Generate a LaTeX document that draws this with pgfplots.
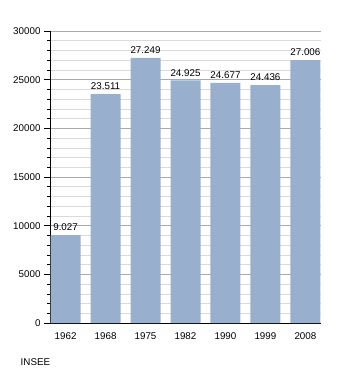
\documentclass[border=0pt]{standalone}
\usepackage{pgfplots}
\pgfplotsset{compat=1.18}
\usepackage{fontspec}
\setmainfont{Liberation Sans}
\definecolor{barblue}{RGB}{152,176,206}
\definecolor{majgrid}{RGB}{170,170,170}
\definecolor{mingrid}{RGB}{218,218,218}
\begin{document}
\begin{tikzpicture}
\path[use as bounding box] (0,0) rectangle (350pt,373pt);
\begin{axis}[
  at={(50pt,50pt)}, anchor=south west,
  scale only axis, width=271pt, height=292pt,
  ybar, bar width=30pt,
  xmin=-0.39, xmax=6.39, ymin=0, ymax=30000,
  xtick=data,
  xticklabels={1962,1968,1975,1982,1990,1999,2008},
  ytick={0,5000,10000,15000,20000,25000,30000},
  scaled y ticks=false,
  minor y tick num=4,
  ymajorgrids, yminorgrids,
  major grid style={majgrid, line width=0.6pt},
  minor grid style={mingrid, line width=0.6pt},
  axis lines=left,
  axis line style={-, black, line width=0.8pt},
  tick align=outside,
  major tick length=6pt, minor tick length=3pt,
  ytick style={black, line width=0.6pt},
  xtick style={draw=none},
  /pgf/number format/1000 sep={},
  /pgf/number format/assume math mode=true,
  tick label style={font=\fontsize{9.8}{10}\selectfont, text=black},
  nodes near coords,
  point meta=explicit symbolic,
  every node near coord/.append style={font=\fontsize{9.8}{10}\selectfont, text=black, inner sep=1pt, yshift=3pt},
]
\addplot[fill=barblue, draw=none] coordinates {
  (0,9027) [9.027]
  (1,23511) [23.511]
  (2,27249) [27.249]
  (3,24925) [24.925]
  (4,24677) [24.677]
  (5,24436) [24.436]
  (6,27006) [27.006]
};
\end{axis}
\node[anchor=west, font=\fontsize{9.8}{10}\selectfont, inner sep=0pt] at (20.5pt,11pt) {INSEE};
\end{tikzpicture}
\end{document}
